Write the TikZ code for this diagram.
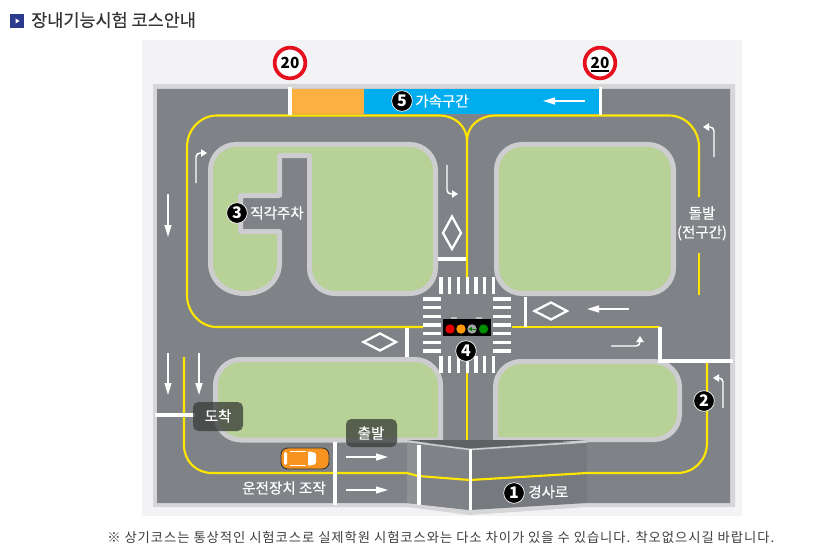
\documentclass[tikz,border=0pt]{standalone}
\usepackage{fontspec}
\setmainfont{Noto Sans CJK KR}
\newfontfamily\medfont[FakeBold=0.35]{Noto Sans CJK KR}
\newfontfamily\footfont[LetterSpace=7]{Noto Sans CJK KR}
\usetikzlibrary{arrows.meta}
\definecolor{grass}{HTML}{B7D196}
\definecolor{curb}{HTML}{CDCDCF}
\definecolor{road}{HTML}{7F8387}
\definecolor{lane}{HTML}{FFE600}
\definecolor{panel}{HTML}{F3F3F5}
\definecolor{edge}{HTML}{D6D6D8}
\definecolor{tagdark}{HTML}{3C3F3C}
\definecolor{signred}{HTML}{E60F1E}
\definecolor{navy}{HTML}{2B3A8C}
\definecolor{zoneorange}{HTML}{FDB03F}
\definecolor{zoneblue}{HTML}{00AEEF}
\definecolor{carorange}{HTML}{F7931E}
\tikzset{
  block/.style={fill=grass,draw=curb,line width=3.75pt,line join=round},
  yline/.style={draw=lane,line width=1.6pt},
  wline/.style={draw=white,line width=2.3pt},
  warrow/.style={draw=white,line width=1.1pt,-{Triangle[length=9pt,width=5.2pt]}},
  tarrow/.style={draw=white,line width=1.1pt,-{Triangle[length=4.5pt,width=5.5pt]},rounded corners=3pt},
  diam/.style={draw=white,line width=1.7pt,line join=miter},
  bar/.style={fill=white},
  badge/.style={circle,fill=black,draw=white,line width=.5pt,minimum size=15.5pt,inner sep=0pt,text=white,font=\fontsize{12}{12}\bfseries},
  lbl/.style={text=white,font=\fontsize{10.9}{11}\medfont,inner sep=0pt},
  tag/.style={rounded corners=4pt,fill=tagdark,fill opacity=.78},
  sign/.style={circle,fill=white,draw=signred,line width=2.8pt,minimum size=23pt,inner sep=0pt,font=\fontsize{11.5}{12}\bfseries,text=black},
}
\begin{document}
\begin{tikzpicture}[x=0.75pt,y=-0.75pt]
\useasboundingbox (0,0) rectangle (834,556);
\fill[white] (0,0) rectangle (834,556);
% heading
\fill[navy] (10,14) rectangle (24,28);
\fill[white] (15.5,18.5) -- (19.5,21) -- (15.5,23.5) -- cycle;
\node[anchor=west,inner sep=0pt,text=black!80,font=\fontsize{13.1}{13}\medfont] (title) at (31,20) {장내기능시험 코스안내};
% panel
\fill[panel] (142,40) rectangle (742,516);
% road field
\fill[edge] (153,84) -- (735,84) -- (735,507) -- (587,507) -- (470,515) -- (407,507) -- (153,507) -- cycle;
\fill[road] (157,89) -- (730,89) -- (730,503) -- (587,503) -- (470,510) -- (407,503) -- (157,503) -- cycle;
% speed zones
\fill[zoneorange] (292,89) rectangle (364,114);
\fill[zoneblue] (364,89) rectangle (599,114);
% blocks
\path[block] (236,144.5) -- (410,144.5) .. controls (424,144.5) and (435.5,156) .. (435.5,170) -- (435.5,268) .. controls (435.5,282) and (424,293.5) .. (410,293.5) -- (335,293.5) .. controls (321,293.5) and (309.5,282) .. (309.5,268) -- (309.5,155.5) -- (279.5,155.5) -- (279.5,195.5) -- (240.5,195.5) -- (240.5,231.5) -- (279.5,231.5) -- (279.5,263) .. controls (279.5,281) and (265,293.5) .. (245,293.5) .. controls (225,293.5) and (210.5,281) .. (210.5,263) -- (210.5,170) .. controls (210.5,156) and (222,144.5) .. (236,144.5) -- cycle;
\path[block] (522,144.5) -- (648,144.5) .. controls (662,144.5) and (673.5,156) .. (673.5,170) -- (673.5,268) .. controls (673.5,282) and (662,293.5) .. (648,293.5) -- (522,293.5) .. controls (508,293.5) and (496.5,282) .. (496.5,268) -- (496.5,170) .. controls (496.5,156) and (508,144.5) .. (522,144.5) -- cycle;
\path[block] (241,359.5) -- (415,359.5) .. controls (429,359.5) and (440.5,371) .. (440.5,385) -- (440.5,440) -- (241,440) .. controls (227,440) and (215.5,428.5) .. (215.5,414.5) -- (215.5,385) .. controls (215.5,371) and (227,359.5) .. (241,359.5) -- cycle;
\path[block] (521,361.5) -- (654,361.5) .. controls (668,361.5) and (679.5,373) .. (679.5,387) -- (679.5,414) .. controls (679.5,428) and (668,439.5) .. (654,439.5) -- (495.5,439.5) -- (495.5,387) .. controls (495.5,373) and (507,361.5) .. (521,361.5) -- cycle;
% slope
\fill[black,fill opacity=.07] (470,449) -- (587,442) -- (587,503) -- (470,510) -- cycle;
\fill[road] (407,442) -- (470,449) -- (470,510) -- (407,503) -- cycle;
\fill[white,fill opacity=.12] (407,443) -- (418,445) -- (418,505) -- (407,503) -- cycle;
\fill[black!25!road] (407,440) -- (587,440) -- (470,448.5) -- cycle;
\draw[curb,line width=1.2pt] (407,441.5) -- (470,449.5) -- (587,442);
% yellow lines
\draw[yline] (440,115.5) -- (217,115.5) .. controls (200,115.5) and (187,130) .. (187,147) -- (187,295) .. controls (187,312) and (200,327) .. (217,327) -- (423,327);
\draw[yline] (495,115.5) -- (669,115.5) .. controls (686,115.5) and (699,130) .. (699,147) -- (699,197);
\draw[yline] (699,253) -- (699,295);
\draw[yline] (440,115.5) .. controls (456,116) and (467,127) .. (467,141) -- (467,277);
\draw[yline] (495,115.5) .. controls (478,116) and (467,127) .. (467,141);
\draw[yline] (512,327) -- (660,327);
\draw[yline] (467,373) -- (467,440);
\draw[yline] (184,357) -- (184,445) .. controls (184,461) and (196,473) .. (212,473) -- (407,473) -- (418,476) -- (470,480) -- (587,473) -- (677,473) .. controls (694,473) and (707,460) .. (707,443) -- (707,363);
% white stop lines
\draw[wline] (290,87) -- (290,115);
\draw[wline] (600.5,87) -- (600.5,115);
\draw[wline] (438,259) -- (466,259);
\draw[wline] (407,327.5) -- (407,357);
\draw[wline] (525.5,297) -- (525.5,327);
\draw[wline] (660,327) -- (660,361) -- (733,361);
\draw[wline] (155,415) -- (195,415);
\draw[wline] (335,442) -- (335,505);
\draw[wline] (419,445) -- (419,505);
\draw[wline] (470.5,449) -- (470.5,510);
% crosswalk
\foreach \k in {0,...,6}{
  \fill[bar] ({441+\k*8.75-1.7},277) rectangle ++(3.4,17);
  \fill[bar] ({441+\k*8.75-1.7},356) rectangle ++(3.4,17);
  \fill[bar] (423,{299+\k*8.67-1.7}) rectangle ++(18,3.4);
  \fill[bar] (493,{299+\k*8.67-1.7}) rectangle ++(18,3.4);
}
% diamonds
\draw[diam] (452,216.5) -- (461,233) -- (452,249) -- (443,233) -- cycle;
\draw[diam] (363.5,342) -- (380,333.5) -- (396,342) -- (380,350.5) -- cycle;
\draw[diam] (534.5,311) -- (551,302.5) -- (567,311) -- (551,319.5) -- cycle;
% arrows
\draw[warrow] (585,101) -- (543,101);
\draw[tarrow] (196,183) -- (196,153) -- (207,153);
\draw[warrow] (168,194) -- (168,237);
\draw[tarrow] (714,157) -- (714,127) -- (703,127);
\draw[tarrow] (447,165) -- (447,194) -- (458,194);
\draw[warrow] (629,309) -- (587,309);
\draw[tarrow] (611,346) -- (640,346) -- (640,336);
\draw[tarrow] (723,408) -- (723,378) -- (713,378);
\draw[warrow] (168,353) -- (168,395);
\draw[warrow] (199,353) -- (199,395);
\draw[warrow] (346,457) -- (388,457);
\draw[warrow] (346,490) -- (388,490);
% traffic light
\fill[curb!80!road] (451,317) rectangle (457,320);
\fill[curb!80!road] (476,317) rectangle (482,320);
\fill[black] (443,319) rectangle (491,336);
\fill[red!90!black] (450,329) circle[radius=4.7];
\fill[orange!80!yellow] (461,329) circle[radius=4.7];
\fill[black!35] (472,329) circle[radius=4.7];
\draw[green!50!black,line width=.7pt,-{Triangle[length=2.5pt,width=3pt]}] (475.5,329) -- (468.5,329);
\fill[green!55!black] (483.5,329) circle[radius=4.7];
% car
\draw[fill=carorange,draw=black!80,line width=.7pt,rounded corners=5pt] (281,448) rectangle (329,469);
\fill[white,rounded corners=1pt] (284,452) rectangle (287,465);
\fill[white] (290,451) rectangle (306,452);
\fill[white] (290,465) rectangle (306,466);
\fill[white,rounded corners=1pt] (308,451) -- (316,453) -- (316,464) -- (308,466) -- cycle;
% tags
\fill[tag] (193,402) rectangle (243,431);
\node[lbl] (arr) at (218,416) {도착};
\fill[tag] (346,419) rectangle (397,447);
\node[lbl] (dep) at (371,433) {출발};
% labels
\node[badge] (b5) at (402,101) {5};
\node[lbl,anchor=west] (l5) at (415,101) {가속구간};
\node[badge] (b3) at (237,213) {3};
\node[lbl,anchor=west] (l3) at (250,213) {직각주차};
\node[badge] (b4) at (466,351) {4};
\node[badge] (b2) at (704,401) {2};
\node[badge] (b1) at (514,493) {1};
\node[lbl,anchor=west] (l1) at (528,492) {경사로};
\node[lbl] (t1) at (702,213) {돌발};
\node[lbl] (t2) at (702,233) {(전구간)};
\node[lbl] (t3) at (284,488) {운전장치 조작};
% signs
\node[sign] (s1) at (290,63) {20};
\node[sign] (s2) at (600,63) {20};
\draw[black,line width=.8pt] ([xshift=-6.5pt,yshift=-6pt]s2.center) -- ([xshift=6.5pt,yshift=-6pt]s2.center);
% footnote
\node[anchor=west,inner sep=0pt,text=black!75,font=\fontsize{10}{10}\footfont] (foot) at (107,537) {※ 상기코스는 통상적인 시험코스로 실제학원 시험코스와는 다소 차이가 있을 수 있습니다. 착오없으시길 바랍니다.};
\end{tikzpicture}
\end{document}
